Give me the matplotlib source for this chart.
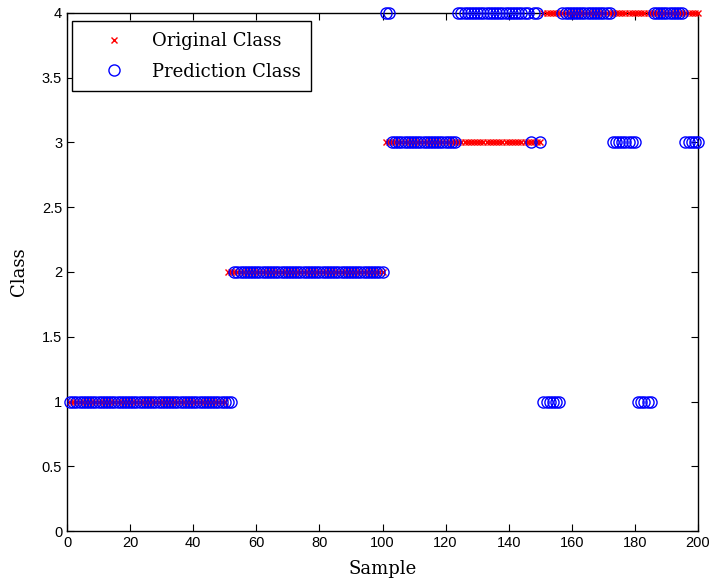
import numpy as np
import matplotlib.pyplot as plt

# original class of every sample (1..200)
samples = np.arange(1, 201)
original_class = np.array([1] * 50 + [2] * 50 + [3] * 50 + [4] * 50)

# predicted class: runs of (first sample, last sample, class)
prediction_runs = [
    (1, 52, 1),
    (53, 100, 2),
    (101, 102, 4),
    (103, 123, 3),
    (124, 146, 4),
    (147, 147, 3),
    (148, 149, 4),
    (150, 150, 3),
    (151, 156, 1),
    (157, 172, 4),
    (173, 180, 3),
    (181, 185, 1),
    (186, 195, 4),
    (196, 200, 3),
]
prediction_class = np.zeros(len(samples), dtype=int)
for first, last, cls in prediction_runs:
    prediction_class[first - 1:last] = cls

x_ticks = np.arange(0, 201, 20)
y_ticks = np.arange(0, 4.01, 0.5)
y_tick_labels = ['0', '0.5', '1', '1.5', '2', '2.5', '3', '3.5', '4']

fig = plt.figure(figsize=(7.13, 5.83), dpi=100)
ax = fig.add_axes([0.094, 0.089, 0.885, 0.889])

ax.plot(samples, original_class, 'x', color='red', markersize=4, markeredgewidth=1,
        label='Original Class', clip_on=False, zorder=3)
ax.plot(samples, prediction_class, 'o', markerfacecolor='none', markeredgecolor='blue',
        markersize=8, markeredgewidth=1, label='Prediction Class', clip_on=False, zorder=4)

ax.set_xlim(0, 200)
ax.set_ylim(0, 4)
ax.set_xticks(x_ticks)
ax.set_yticks(y_ticks)
ax.set_yticklabels(y_tick_labels)
ax.tick_params(direction='in', top=True, right=True, length=5, labelsize=10.5)
for lbl in ax.get_xticklabels() + ax.get_yticklabels():
    lbl.set_family('Liberation Sans')
for sp in ax.spines.values():
    sp.set_linewidth(1)

ax.set_xlabel('Sample', family='DejaVu Serif', fontsize=13, labelpad=7)
ax.set_ylabel('Class', family='DejaVu Serif', fontsize=13)
ax.yaxis.set_label_coords(-0.062, 0.5)

leg = ax.legend(loc='upper left', prop={'family': 'DejaVu Serif', 'size': 13},
                fancybox=False, edgecolor='black', framealpha=1, numpoints=1,
                handlelength=3.4, handletextpad=0.4, borderpad=0.6, labelspacing=0.7,
                borderaxespad=0, bbox_to_anchor=(0.008, 0.984))
leg.get_frame().set_linewidth(1)

fig.savefig('out.png', dpi=100)
